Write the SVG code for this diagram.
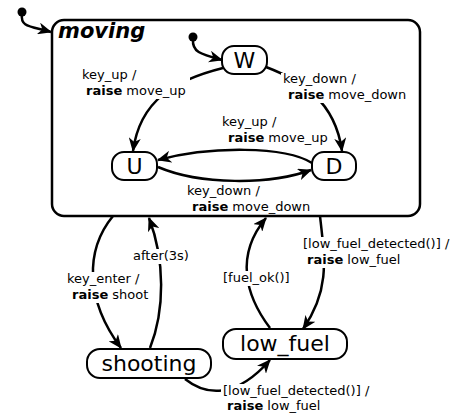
<svg xmlns="http://www.w3.org/2000/svg" width="462" height="416" viewBox="0 0 462 416">
<style>
.st rect{fill:#fff;stroke:#000;stroke-width:2}
.st text{font-family:"DejaVu Sans",Verdana,sans-serif;font-size:22px;text-anchor:middle;fill:#000}
.e{fill:none;stroke:#000;stroke-width:2.5;marker-end:url(#arr)}
.lbl{font-family:"DejaVu Sans",Verdana,sans-serif;font-size:13px;fill:#000}
.b{font-weight:bold}
.bg{fill:#fff}
</style>
<defs>
<marker id="arr" markerUnits="userSpaceOnUse" markerWidth="16" markerHeight="12" refX="13" refY="6" orient="auto">
<path d="M0,0 L14,6 L0,12 L4,6 z" fill="#000"/>
</marker>
</defs>
<g id="moving">
<rect x="52" y="20" width="368" height="196" rx="12" fill="#fff" stroke="#000" stroke-width="2.5"/>
<text x="58" y="38" font-family="'DejaVu Sans',Verdana,sans-serif" font-size="21" font-weight="bold" font-style="italic">moving</text>
</g>
<g id="init-outer"><circle cx="22" cy="12" r="4.5" fill="#000"/></g>
<g id="init-inner"><circle cx="193" cy="37" r="4.5" fill="#000"/></g>
<g id="connectors">
<path class="e" d="M22,14 C20,27 30,26 51,32"/>
<path class="e" d="M193,39 C192,52 200,54 222,60"/>
<path class="e" d="M223,68 C175,80 140,100 133,151"/>
<path class="e" d="M266,67 C300,80 335,100 342,151"/>
<path class="e" d="M312,163 C285,146 210,146 158,160"/>
<path class="e" d="M158,167 C200,185 270,185 311,170"/>
<path class="e" d="M113,216 C85,250 85,300 121,348"/>
<path class="e" d="M150,348 C165,310 165,260 149,218"/>
<path class="e" d="M320,216 C325,260 330,290 303,329"/>
<path class="e" d="M270,328 C245,295 235,255 266,218"/>
<path class="e" d="M185,379 C205,395 235,400 270,360"/>
</g>
<g id="labels">
<rect class="bg" x="80" y="69" width="110" height="30"/>
<text class="lbl" x="82" y="79">key_up /</text>
<text class="lbl" x="86" y="95"><tspan class="b">raise</tspan> move_up</text>
<rect class="bg" x="281" y="73" width="128" height="30"/>
<text class="lbl" x="283" y="83">key_down /</text>
<text class="lbl" x="288" y="99"><tspan class="b">raise</tspan> move_down</text>
<text class="lbl" x="222" y="126">key_up /</text>
<text class="lbl" x="228" y="142"><tspan class="b">raise</tspan> move_up</text>
<text class="lbl" x="187" y="195">key_down /</text>
<text class="lbl" x="192" y="211"><tspan class="b">raise</tspan> move_down</text>
<rect class="bg" x="65" y="272" width="76" height="31"/>
<text class="lbl" x="67" y="283">key_enter /</text>
<text class="lbl" x="72" y="299"><tspan class="b">raise</tspan> shoot</text>
<rect class="bg" x="131" y="249" width="54" height="15"/>
<text class="lbl" x="133" y="260">after(3s)</text>
<rect class="bg" x="221" y="271" width="70" height="15"/>
<text class="lbl" x="223" y="282">[fuel_ok()]</text>
<rect class="bg" x="301" y="237" width="150" height="31"/>
<text class="lbl" x="303" y="248">[low_fuel_detected()] /</text>
<text class="lbl" x="307" y="264"><tspan class="b">raise</tspan> low_fuel</text>
<rect class="bg" x="221" y="384" width="150" height="30"/>
<text class="lbl" x="223" y="395">[low_fuel_detected()] /</text>
<text class="lbl" x="227" y="410"><tspan class="b">raise</tspan> low_fuel</text>
</g>
<g id="W" class="st"><rect x="222" y="46" width="45" height="28" rx="12"/><text x="244.5" y="68">W</text></g>
<g id="U" class="st"><rect x="112" y="152" width="45" height="28" rx="12"/><text x="134.5" y="174">U</text></g>
<g id="D" class="st"><rect x="312" y="152" width="44" height="28" rx="12"/><text x="334" y="174">D</text></g>
<g id="shooting" class="st"><rect x="87" y="349" width="124" height="29" rx="13"/><text x="149" y="371">shooting</text></g>
<g id="low_fuel" class="st"><rect x="223" y="329" width="124" height="30" rx="13"/><text x="285" y="351">low_fuel</text></g>
</svg>
